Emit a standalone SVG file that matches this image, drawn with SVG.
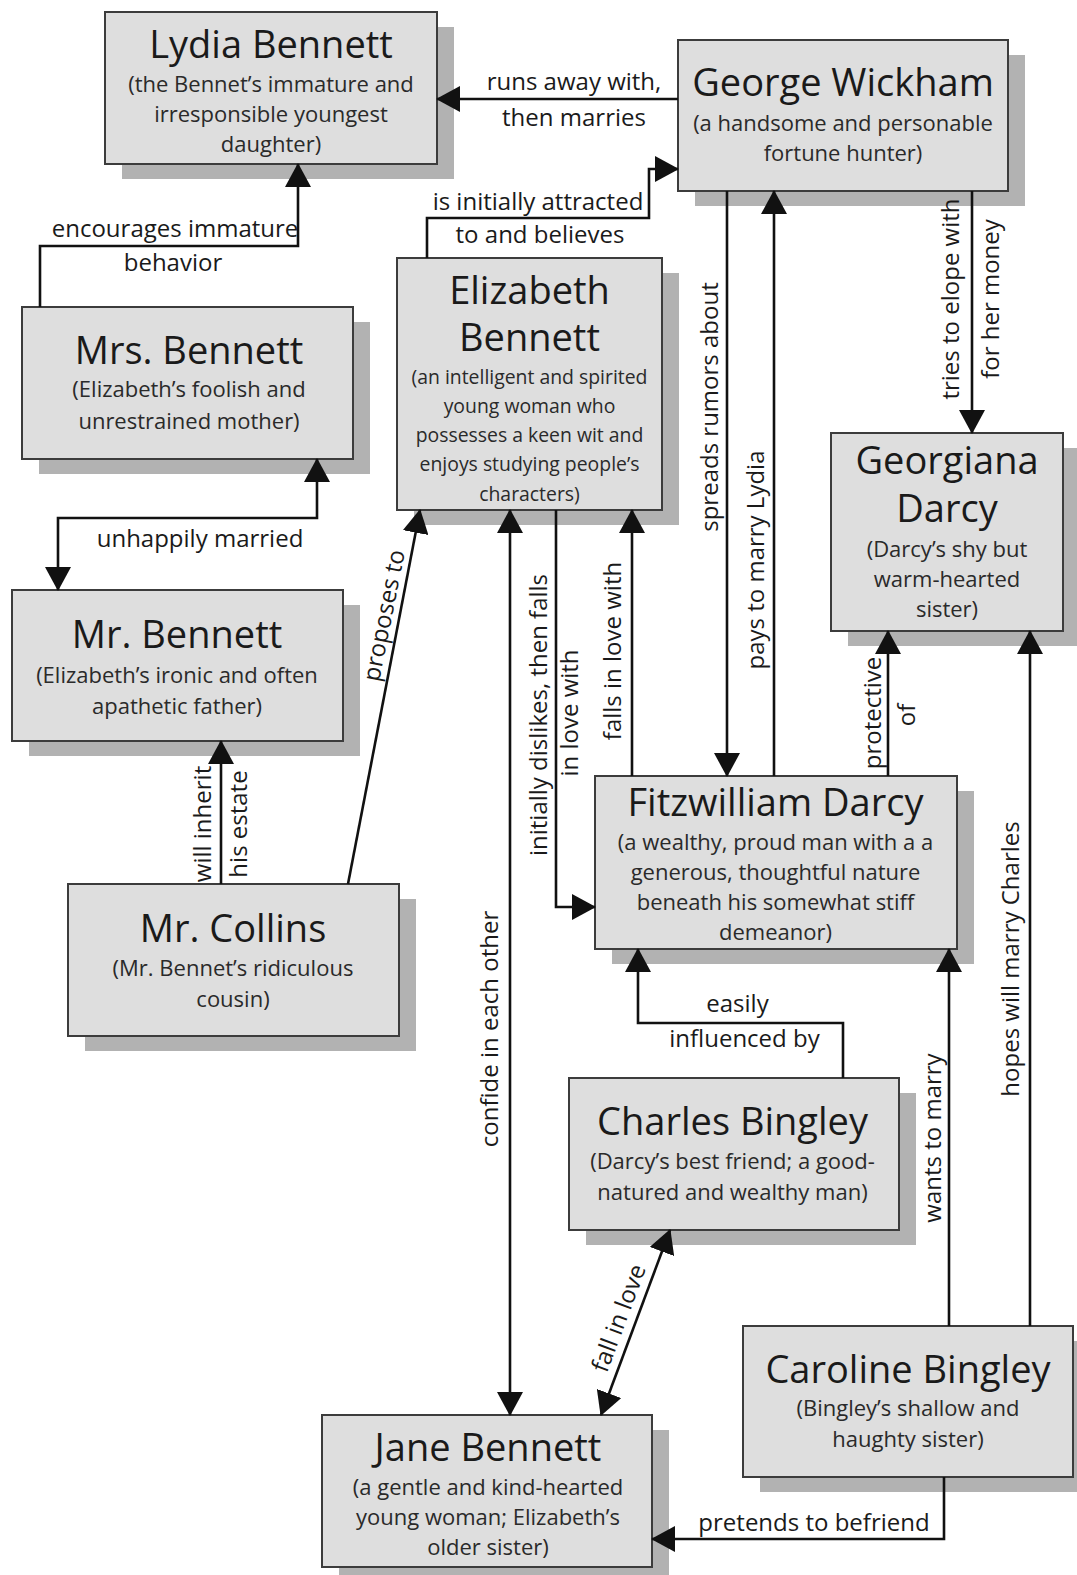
<svg xmlns="http://www.w3.org/2000/svg" width="1077" height="1575" viewBox="0 0 1077 1575">
<defs>
<style>
.shadow{fill:#b2b2b2}
.box{fill:#dedede;stroke:#3c3c3c;stroke-width:2}
.title{font-family:"Open Sans","Noto Sans",sans-serif;font-size:38px;fill:#1a1a1a;text-anchor:middle}
.sub{font-family:"Open Sans","Noto Sans",sans-serif;font-size:22px;fill:#2a2a2a;text-anchor:middle}
.subs{font-family:"Open Sans","Noto Sans",sans-serif;font-size:19.4px;fill:#2a2a2a;text-anchor:middle}
.lbl{font-family:"Open Sans","Noto Sans",sans-serif;font-size:24px;fill:#1a1a1a;text-anchor:middle}
.edge{fill:none;stroke:#111;stroke-width:2.6}
.a1{marker-end:url(#arr)}
.a2{marker-start:url(#arr);marker-end:url(#arr)}
</style>
<marker id="arr" markerUnits="userSpaceOnUse" viewBox="0 0 24 26" markerWidth="24" markerHeight="26" refX="23" refY="13" orient="auto-start-reverse">
<path d="M0,0 L24,13 L0,26 z" fill="#111"/>
</marker>
</defs>
<rect width="1077" height="1575" fill="#ffffff"/>

<g id="lydia">
<rect class="shadow" x="122" y="27" width="332" height="152"/>
<rect class="box" x="105" y="12" width="332" height="152"/>
<text class="title" x="271" y="58">Lydia Bennett</text>
<text class="sub" x="271" y="92">(the Bennet’s immature and</text>
<text class="sub" x="271" y="122">irresponsible youngest</text>
<text class="sub" x="271" y="152">daughter)</text>
</g>

<g id="wickham">
<rect class="shadow" x="695" y="55" width="330" height="151"/>
<rect class="box" x="678" y="40" width="330" height="151"/>
<text class="title" x="843" y="96">George Wickham</text>
<text class="sub" x="843" y="131">(a handsome and personable</text>
<text class="sub" x="843" y="161">fortune hunter)</text>
</g>

<g id="elizabeth">
<rect class="shadow" x="414" y="273" width="265" height="252"/>
<rect class="box" x="397" y="258" width="265" height="252"/>
<text class="title" x="529.5" y="304">Elizabeth</text>
<text class="title" x="529.5" y="351">Bennett</text>
<text class="subs" x="529.5" y="384">(an intelligent and spirited</text>
<text class="subs" x="529.5" y="413">young woman who</text>
<text class="subs" x="529.5" y="442">possesses a keen wit and</text>
<text class="subs" x="529.5" y="471">enjoys studying people’s</text>
<text class="subs" x="529.5" y="500.5">characters)</text>
</g>

<g id="mrs-bennett">
<rect class="shadow" x="39" y="322" width="331" height="152"/>
<rect class="box" x="22" y="307" width="331" height="152"/>
<text class="title" x="189" y="364">Mrs. Bennett</text>
<text class="sub" x="189" y="397">(Elizabeth’s foolish and</text>
<text class="sub" x="189" y="428.5">unrestrained mother)</text>
</g>

<g id="mr-bennett">
<rect class="shadow" x="29" y="605" width="331" height="151"/>
<rect class="box" x="12" y="590" width="331" height="151"/>
<text class="title" x="177" y="648">Mr. Bennett</text>
<text class="sub" x="177" y="682.5">(Elizabeth’s ironic and often</text>
<text class="sub" x="177" y="714">apathetic father)</text>
</g>

<g id="georgiana">
<rect class="shadow" x="848" y="448" width="232" height="198"/>
<rect class="box" x="831" y="433" width="232" height="198"/>
<text class="title" x="947" y="474">Georgiana</text>
<text class="title" x="947" y="522">Darcy</text>
<text class="sub" x="947" y="556.5">(Darcy’s shy but</text>
<text class="sub" x="947" y="586.5">warm-hearted</text>
<text class="sub" x="947" y="616.5">sister)</text>
</g>

<g id="darcy">
<rect class="shadow" x="612" y="791" width="362" height="173"/>
<rect class="box" x="595" y="776" width="362" height="173"/>
<text class="title" x="775.5" y="816">Fitzwilliam Darcy</text>
<text class="sub" x="775.5" y="849.5">(a wealthy, proud man with a a</text>
<text class="sub" x="775.5" y="880">generous, thoughtful nature</text>
<text class="sub" x="775.5" y="910">beneath his somewhat stiff</text>
<text class="sub" x="775.5" y="940">demeanor)</text>
</g>

<g id="collins">
<rect class="shadow" x="85" y="899" width="331" height="152"/>
<rect class="box" x="68" y="884" width="331" height="152"/>
<text class="title" x="233" y="942">Mr. Collins</text>
<text class="sub" x="233" y="976">(Mr. Bennet’s ridiculous</text>
<text class="sub" x="233" y="1007">cousin)</text>
</g>

<g id="charles">
<rect class="shadow" x="586" y="1093" width="330" height="152"/>
<rect class="box" x="569" y="1078" width="330" height="152"/>
<text class="title" x="732.5" y="1134.5">Charles Bingley</text>
<text class="sub" x="732.5" y="1169">(Darcy’s best friend; a good-</text>
<text class="sub" x="732.5" y="1200">natured and wealthy man)</text>
</g>

<g id="caroline">
<rect class="shadow" x="760" y="1341" width="330" height="151"/>
<rect class="box" x="743" y="1326" width="330" height="151"/>
<text class="title" x="908" y="1382.5">Caroline Bingley</text>
<text class="sub" x="908" y="1416">(Bingley’s shallow and</text>
<text class="sub" x="908" y="1447">haughty sister)</text>
</g>

<g id="jane">
<rect class="shadow" x="339" y="1430" width="330" height="152"/>
<rect class="box" x="322" y="1415" width="330" height="152"/>
<text class="title" x="488" y="1461">Jane Bennett</text>
<text class="sub" x="488" y="1494.5">(a gentle and kind-hearted</text>
<text class="sub" x="488" y="1525">young woman; Elizabeth’s</text>
<text class="sub" x="488" y="1555">older sister)</text>
</g>

<g id="connectors">
<path class="edge a1" d="M678,99 H437"/>
<path class="edge a1" d="M427,258 V218 H649 V169 H678"/>
<path class="edge a1" d="M40,307 V246 H298 V164"/>
<path class="edge a2" d="M317,459 V518 H58 V590"/>
<path class="edge a1" d="M221,884 V741"/>
<path class="edge a1" d="M348,884 L420,510"/>
<path class="edge a2" d="M510,510 V1415"/>
<path class="edge a1" d="M556,510 V907 H595"/>
<path class="edge a1" d="M632,776 V510"/>
<path class="edge a1" d="M727,191 V776"/>
<path class="edge a1" d="M774,776 V191"/>
<path class="edge a1" d="M972,191 V433"/>
<path class="edge a1" d="M888,776 V631"/>
<path class="edge a1" d="M1030,1326 V631"/>
<path class="edge a1" d="M949,1326 V949"/>
<path class="edge a1" d="M843,1078 V1023 H638 V949"/>
<path class="edge a2" d="M670,1230 L601,1415"/>
<path class="edge a1" d="M944,1477 V1539 H652"/>

<text class="lbl" x="574" y="90">runs away with,</text>
<text class="lbl" x="574" y="126">then marries</text>
<text class="lbl" x="538" y="210">is initially attracted</text>
<text class="lbl" x="540" y="243">to and believes</text>
<text class="lbl" x="175" y="237">encourages immature</text>
<text class="lbl" x="173" y="271">behavior</text>
<text class="lbl" x="200" y="547">unhappily married</text>
<text class="lbl" x="737.5" y="1011.5">easily</text>
<text class="lbl" x="744.5" y="1047">influenced by</text>
<text class="lbl" x="814" y="1531">pretends to befriend</text>

<text class="lbl" transform="translate(210.5,824) rotate(-90)">will inherit</text>
<text class="lbl" transform="translate(246.5,824) rotate(-90)">his estate</text>
<text class="lbl" transform="translate(392,617) rotate(-78.7)">proposes to</text>
<text class="lbl" transform="translate(498,1029) rotate(-90)">confide in each other</text>
<text class="lbl" transform="translate(547,715) rotate(-90)">initially dislikes, then falls</text>
<text class="lbl" transform="translate(578,713) rotate(-90)">in love with</text>
<text class="lbl" transform="translate(621,651) rotate(-90)">falls in love with</text>
<text class="lbl" transform="translate(717.5,407) rotate(-90)">spreads rumors about</text>
<text class="lbl" transform="translate(764,560) rotate(-90)">pays to marry Lydia</text>
<text class="lbl" transform="translate(959,299) rotate(-90)">tries to elope with</text>
<text class="lbl" transform="translate(999,299) rotate(-90)">for her money</text>
<text class="lbl" transform="translate(880.5,713) rotate(-90)">protective</text>
<text class="lbl" transform="translate(915,715) rotate(-90)">of</text>
<text class="lbl" transform="translate(1019,959) rotate(-90)">hopes will marry Charles</text>
<text class="lbl" transform="translate(941,1138) rotate(-90)">wants to marry</text>
<text class="lbl" transform="translate(626.5,1321) rotate(-69.4)">fall in love</text>
</g>
</svg>
